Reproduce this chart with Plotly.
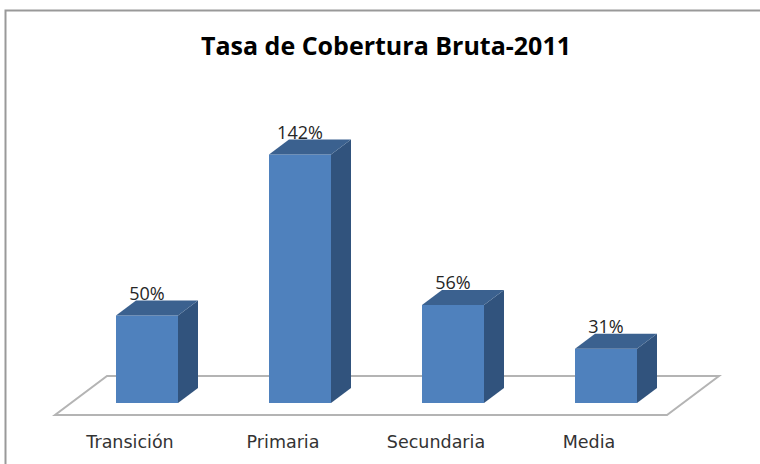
import plotly.graph_objects as go

categories = ["Transición", "Primaria", "Secundaria", "Media"]
values = [50, 142, 56, 31]
value_labels = ["50%", "142%", "56%", "31%"]

FRONT = "#4F81BD"
SIDE = "#31537D"
TOP = "#3B618F"
FLOOR = "#B4B4B4"
FRAME = "#999999"

WIDTH = 760
HEIGHT = 464
MARGIN_B = 44
PLOT_H = HEIGHT - MARGIN_B

# pixels per axis unit, so the 3d offsets stay in axis units
PX_X = 153
PX_Y = 1.75
BAR_W = 62 / PX_X
DX = 20 / PX_X
DY = 15 / PX_Y
# the category labels sit under the front edge of the floor, left of the bars
LABEL_SHIFT = 17 / PX_X

x_pos = list(range(len(categories)))

fig = go.Figure()

fig.add_trace(go.Bar(
    x=x_pos,
    y=values,
    width=BAR_W,
    marker=dict(color=FRONT, line=dict(width=0)),
    hoverinfo="skip",
))

for x, v in zip(x_pos, values):
    left = x - BAR_W / 2
    right = x + BAR_W / 2
    # side face
    fig.add_trace(go.Scatter(
        x=[right, right + DX, right + DX, right, right],
        y=[0, DY, v + DY, v, 0],
        mode="lines", fill="toself", fillcolor=SIDE,
        line=dict(width=0), hoverinfo="skip",
    ))
    # top face
    fig.add_trace(go.Scatter(
        x=[left, left + DX, right + DX, right, left],
        y=[v, v + DY, v + DY, v, v],
        mode="lines", fill="toself", fillcolor=TOP,
        line=dict(width=0), hoverinfo="skip",
    ))

fig.add_trace(go.Scatter(
    x=x_pos,
    y=[v + DY + 3 for v in values],
    mode="text",
    text=value_labels,
    textposition="middle center",
    textfont=dict(family="Open Sans", size=18, color="#262626"),
    hoverinfo="skip",
))

# floor of the 3d box, behind the bars
floor_front = -12 / PX_Y
floor_back = 27 / PX_Y
fl = -92 / PX_X
fr = 520 / PX_X
fig.add_shape(
    type="path",
    path=f"M {fl} {floor_front} L {fr} {floor_front} L {fr + 52 / PX_X} {floor_back} "
         f"L {fl + 52 / PX_X} {floor_back} Z",
    xref="x", yref="y",
    line=dict(color=FLOOR, width=2),
    layer="below",
)

# chart frame, cut off by the window on the right and at the bottom
frame_l = 5.5 / WIDTH
frame_t = 1 - 10.5 / PLOT_H
frame_b = -MARGIN_B / PLOT_H
fig.add_shape(
    type="path",
    path=f"M {frame_l} {frame_b} L {frame_l} {frame_t} L 1 {frame_t}",
    xref="paper", yref="paper",
    line=dict(color=FRAME, width=2),
)

fig.update_layout(
    width=WIDTH,
    height=HEIGHT,
    margin=dict(l=0, r=0, t=0, b=MARGIN_B),
    paper_bgcolor="white",
    plot_bgcolor="white",
    showlegend=False,
    title=dict(
        text="<b>Tasa de Cobertura Bruta-2011</b>",
        x=386 / WIDTH, xanchor="center",
        y=1 - 46 / HEIGHT, yanchor="middle",
        font=dict(family="Open Sans", size=25, color="black"),
    ),
    xaxis=dict(
        range=[-147 / PX_X, 613 / PX_X],
        tickmode="array",
        tickvals=[x - LABEL_SHIFT for x in x_pos],
        ticktext=categories,
        showgrid=False,
        zeroline=False,
        showline=False,
        ticks="outside",
        ticklen=6,
        tickcolor="rgba(0,0,0,0)",
        tickfont=dict(family="DejaVu Sans", size=17.5, color="#333333"),
    ),
    yaxis=dict(
        range=[-17 / PX_Y, 403 / PX_Y],
        visible=False,
    ),
)

# the page's default body margin would push the figure off the window
fig.write_html(
    "out.html",
    config={"displayModeBar": False},
    post_script="document.body.style.margin = '0';",
)
